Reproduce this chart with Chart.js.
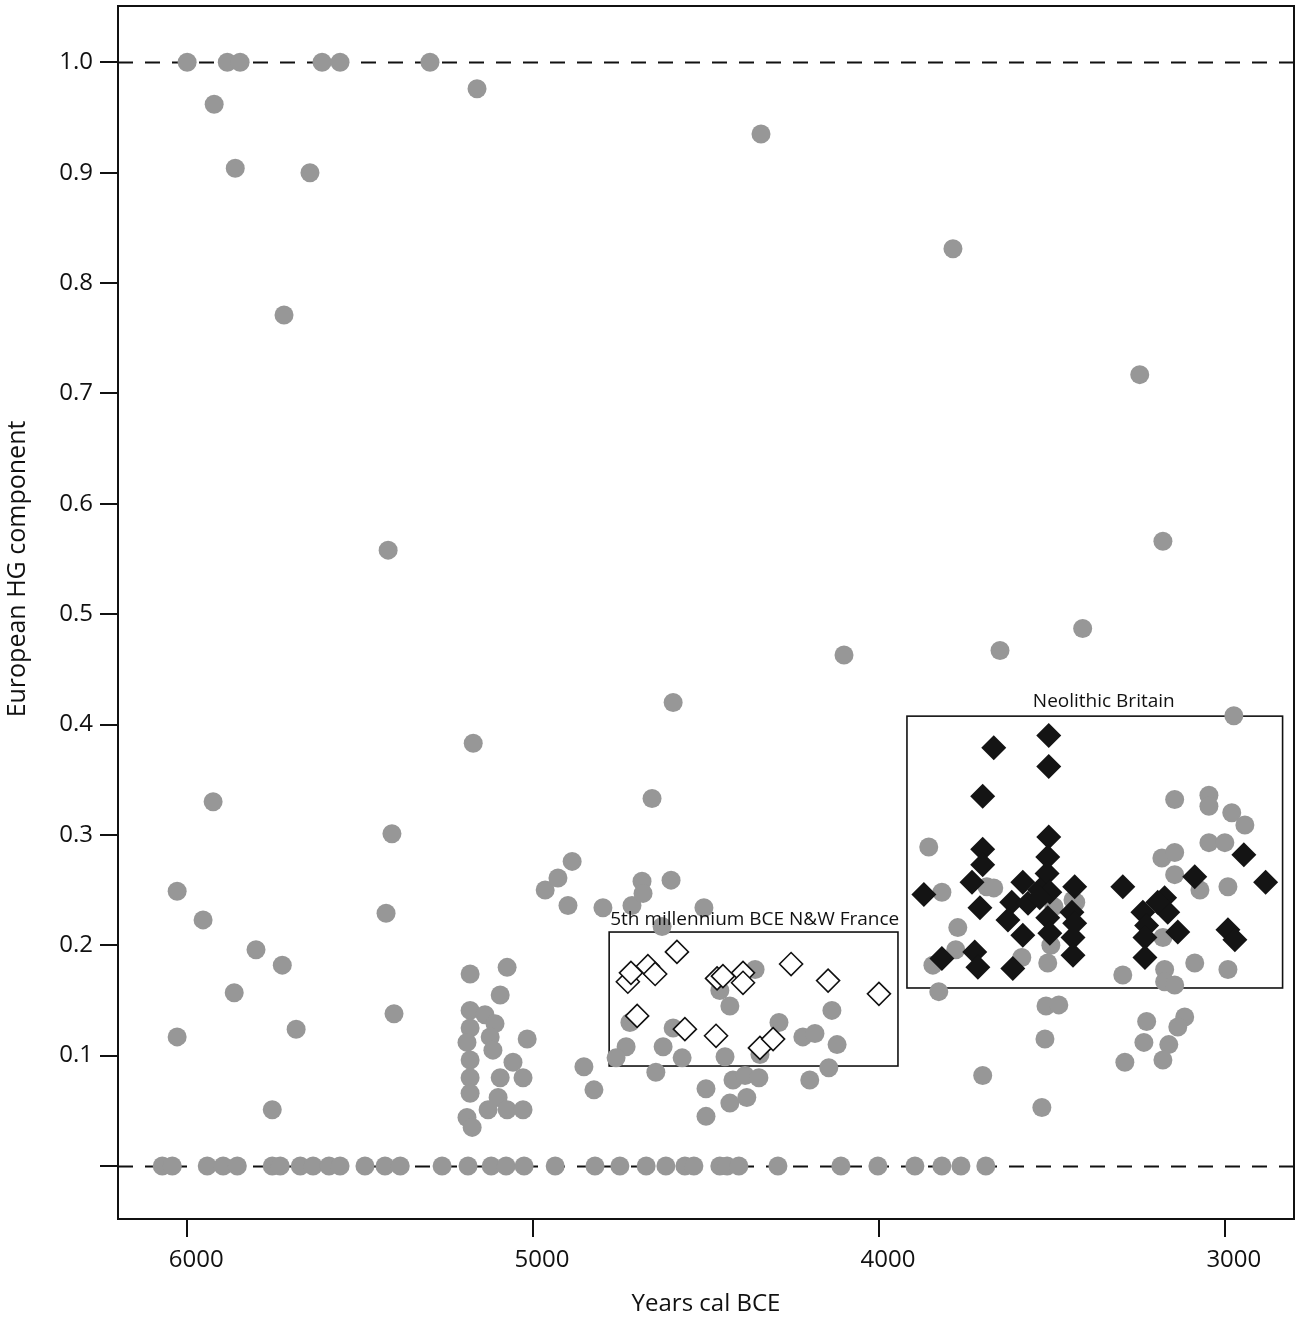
<!DOCTYPE html>
<html>
<head>
<meta charset="utf-8">
<script src="https://cdn.jsdelivr.net/npm/chart.js@4.4.1/dist/chart.umd.min.js"></script>
<style>
  html, body { margin: 0; padding: 0; background: #ffffff; }
  #wrap { width: 1299px; height: 1321px; position: relative; }
</style>
</head>
<body>
<div id="wrap"><canvas id="c"></canvas></div>
<script>
// ---------- DATA ----------
const xTickValues = [6000, 5000, 4000, 3000];
const yTickValues = [0, 0.1, 0.2, 0.3, 0.4, 0.5, 0.6, 0.7, 0.8, 0.9, 1.0];
const yTickLabels = ['', '0.1', '0.2', '0.3', '0.4', '0.5', '0.6', '0.7', '0.8', '0.9', '1.0'];
const referenceLevels = [0, 1.0];

// Grey circles: all samples (years cal BCE, European HG component)
const greyYears = [
  6000, 5922, 5884, 5847, 5861, 5610, 5558, 5645, 5720, 5298, 5162, 4341, 3786, 3246, 3179,
  5419, 3411, 4101, 3650, 4595, 5173, 2974, 5925, 5408, 4656, 6029, 5954, 5864, 5801, 5725,
  5685, 5754, 6029, 5425, 5402,
  5182, 5075, 5095, 5182, 5139, 5110, 5182, 5191, 5124, 5017, 5182, 5116, 5058, 5095, 5029,
  5182, 5182, 5101, 5130, 5075, 5029, 5191, 5176,
  4965, 4928, 4887, 4899, 4853, 4824, 4798, 4714, 4685, 4682, 4601, 4506, 4627, 4358, 4460,
  4431, 4136, 4289, 4720, 4595, 4220, 4185, 4121, 4731, 4760, 4624, 4569, 4445, 4344, 4645,
  4422, 4387, 4347, 4145, 4200, 4500, 4431, 4382, 4500,
  3856, 3818, 3772, 3778, 3844, 3827, 3688, 3668, 3587, 3503, 3512, 3494, 3431, 3517, 3480,
  3520, 3700, 3529, 3439,
  3145, 3046, 3046, 2980, 2942, 3046, 3000, 3182, 3145, 3145, 3072, 2991, 3179, 3295, 3174,
  3174, 3145, 3087, 2991, 3116, 3226, 3136, 3234, 3162, 3289, 3179,
  6072, 6043, 5942, 5896, 5855, 5754, 5731, 5673, 5636, 5590, 5558, 5486, 5428, 5384, 5263,
  5188, 5121, 5078, 5026, 4936, 4821, 4749, 4673, 4616, 4561, 4535, 4460, 4439, 4405, 4292,
  4110, 4003, 3896, 3818, 3763, 3691
];
const greyValues = [
  1.000, 0.962, 1.000, 1.000, 0.904, 1.000, 1.000, 0.900, 0.771, 1.000, 0.976, 0.935, 0.831, 0.717, 0.566,
  0.558, 0.487, 0.463, 0.467, 0.420, 0.383, 0.408, 0.330, 0.301, 0.333, 0.249, 0.223, 0.157, 0.196, 0.182,
  0.124, 0.051, 0.117, 0.229, 0.138,
  0.174, 0.180, 0.155, 0.141, 0.137, 0.129, 0.125, 0.112, 0.117, 0.115, 0.096, 0.105, 0.094, 0.080, 0.080,
  0.080, 0.066, 0.062, 0.051, 0.051, 0.051, 0.044, 0.035,
  0.250, 0.261, 0.276, 0.236, 0.090, 0.069, 0.234, 0.236, 0.258, 0.247, 0.259, 0.234, 0.217, 0.178, 0.159,
  0.145, 0.141, 0.130, 0.130, 0.125, 0.117, 0.120, 0.110, 0.108, 0.098, 0.108, 0.098, 0.099, 0.101, 0.085,
  0.078, 0.082, 0.080, 0.089, 0.078, 0.070, 0.057, 0.062, 0.045,
  0.289, 0.248, 0.216, 0.196, 0.182, 0.158, 0.253, 0.252, 0.189, 0.200, 0.184, 0.235, 0.239, 0.145, 0.146,
  0.115, 0.082, 0.053, 0.241,
  0.332, 0.336, 0.326, 0.320, 0.309, 0.293, 0.293, 0.279, 0.284, 0.264, 0.250, 0.253, 0.207, 0.173, 0.178,
  0.167, 0.164, 0.184, 0.178, 0.135, 0.131, 0.126, 0.112, 0.110, 0.094, 0.096,
  0, 0, 0, 0, 0, 0, 0, 0, 0, 0, 0, 0, 0, 0, 0,
  0, 0, 0, 0, 0, 0, 0, 0, 0, 0, 0, 0, 0, 0, 0,
  0, 0, 0, 0, 0, 0
];

// Open diamonds: 5th millennium BCE N&W France
const franceYears = [4726, 4717, 4699, 4668, 4647, 4584, 4561, 4471, 4468, 4451, 4393, 4393, 4344, 4306, 4254, 4147, 4000];
const franceValues = [0.167, 0.175, 0.136, 0.181, 0.174, 0.194, 0.124, 0.118, 0.170, 0.172, 0.175, 0.166, 0.107, 0.115, 0.183, 0.168, 0.156];

// Black diamonds: Neolithic Britain
const britainYears = [
  3509, 3668, 3509, 3700, 3509, 3700, 3512, 3700, 3514, 2945, 3584, 3731, 3535, 3506, 3087,
  2882, 3870, 3434, 3295, 3616, 3569, 3535, 3708, 3174, 3237, 3165, 3627, 3512, 3442, 3434,
  3226, 3506, 3439, 3231, 3136, 3584, 2991, 2971, 3439, 3818, 3723, 3714, 3613, 3231, 3194
];
const britainValues = [
  0.390, 0.379, 0.362, 0.335, 0.298, 0.287, 0.280, 0.273, 0.265, 0.282, 0.257, 0.257, 0.250, 0.248, 0.262,
  0.257, 0.246, 0.253, 0.253, 0.239, 0.238, 0.243, 0.234, 0.243, 0.230, 0.230, 0.223, 0.225, 0.230, 0.220,
  0.218, 0.211, 0.207, 0.207, 0.212, 0.209, 0.214, 0.205, 0.191, 0.188, 0.194, 0.180, 0.179, 0.189, 0.239
];

// Annotation boxes (data units: years cal BCE / HG component)
const boxLabels = ['5th millennium BCE N&W France', 'Neolithic Britain'];
const boxYearFrom = [4780, 3919];
const boxYearTo = [3945, 2833];
const boxValueLow = [0.0906, 0.1613];
const boxValueHigh = [0.212, 0.4076];

// ---------- CHART ----------
const FONT = '"Open Sans", "Noto Sans", Arial, sans-serif';

function pairs(xs, ys) { return xs.map((x, i) => ({ x: x, y: ys[i] })); }

const decorPlugin = {
  id: 'decor',
  beforeDatasetsDraw(chart) {
    const { ctx, chartArea, scales } = chart;
    const xs = scales.x, ys = scales.y;
    ctx.save();
    ctx.strokeStyle = '#111';
    ctx.lineWidth = 2;
    ctx.setLineDash([15, 12]);
    referenceLevels.forEach(v => {
      const py = Math.round(ys.getPixelForValue(v)) + 0.5;
      ctx.beginPath();
      ctx.moveTo(chartArea.left, py);
      ctx.lineTo(chartArea.right, py);
      ctx.stroke();
    });
    ctx.setLineDash([]);
    ctx.strokeStyle = '#111';
    ctx.lineWidth = 1.6;
    for (let i = 0; i < boxLabels.length; i++) {
      const x0 = xs.getPixelForValue(boxYearFrom[i]);
      const x1 = xs.getPixelForValue(boxYearTo[i]);
      const y0 = ys.getPixelForValue(boxValueHigh[i]);
      const y1 = ys.getPixelForValue(boxValueLow[i]);
      ctx.strokeRect(x0, y0, x1 - x0, y1 - y0);
    }
    ctx.restore();
  },
  afterDraw(chart) {
    const { ctx, chartArea, scales } = chart;
    const xs = scales.x, ys = scales.y;
    ctx.save();
    ctx.strokeStyle = '#111';
    ctx.lineWidth = 2;
    ctx.strokeRect(chartArea.left, chartArea.top, chartArea.right - chartArea.left, chartArea.bottom - chartArea.top);
    ctx.fillStyle = '#111';
    ctx.font = '19px ' + FONT;
    ctx.textBaseline = 'alphabetic';
    {
      const x0 = xs.getPixelForValue(boxYearFrom[0]);
      const y0 = ys.getPixelForValue(boxValueHigh[0]);
      ctx.textAlign = 'left';
      ctx.fillText(boxLabels[0], x0 + 1, y0 - 7);
    }
    {
      const x0 = xs.getPixelForValue(boxYearFrom[1]);
      const x1 = xs.getPixelForValue(boxYearTo[1]);
      const y0 = ys.getPixelForValue(boxValueHigh[1]);
      ctx.textAlign = 'center';
      ctx.fillText(boxLabels[1], (x0 + x1) / 2 + 9, y0 - 9);
    }
    ctx.font = '25px ' + FONT;
    ctx.textAlign = 'center';
    ctx.textBaseline = 'middle';
    ctx.translate(18, 569);
    ctx.rotate(-Math.PI / 2);
    ctx.fillText('European HG component', 0, 0);
    ctx.restore();
  }
};

new Chart(document.getElementById('c'), {
  type: 'scatter',
  data: {
    datasets: [
      {
        label: 'Neolithic Britain',
        data: pairs(britainYears, britainValues),
        pointStyle: 'rectRot',
        pointRadius: 12.5,
        backgroundColor: '#141414',
        borderColor: '#141414',
        borderWidth: 0,
        order: 1
      },
      {
        label: '5th millennium BCE N&W France',
        data: pairs(franceYears, franceValues),
        pointStyle: 'rectRot',
        pointRadius: 11.5,
        backgroundColor: '#ffffff',
        borderColor: '#111111',
        borderWidth: 1.6,
        order: 2
      },
      {
        label: 'All samples',
        data: pairs(greyYears, greyValues),
        pointStyle: 'circle',
        pointRadius: 9.5,
        backgroundColor: '#979797',
        borderColor: '#979797',
        borderWidth: 0,
        order: 3
      }
    ]
  },
  options: {
    responsive: true,
    maintainAspectRatio: false,
    animation: false,
    layout: { autoPadding: false, padding: { left: 0, right: 5, top: 6, bottom: 0 } },
    plugins: { legend: { display: false }, tooltip: { enabled: false } },
    scales: {
      x: {
        type: 'linear',
        reverse: true,
        min: 2800,
        max: 6200,
        afterBuildTicks: s => { s.ticks = xTickValues.map(v => ({ value: v })); },
        afterFit: s => { s.height = 102; s.paddingLeft = 0; s.paddingRight = 0; },
        border: { display: false },
        grid: { display: true, drawOnChartArea: false, drawTicks: true, tickLength: 18, color: '#111', lineWidth: 2 },
        ticks: {
          color: '#111',
          font: { family: FONT, size: 24 },
          padding: 9,
          labelOffset: 9,
          maxRotation: 0,
          callback: v => String(v)
        },
        title: {
          display: true,
          text: 'Years cal BCE',
          color: '#111',
          font: { family: FONT, size: 24 },
          padding: { top: 0, bottom: 2 }
        }
      },
      y: {
        type: 'linear',
        min: -0.048,
        max: 1.051,
        afterBuildTicks: s => { s.ticks = yTickValues.map(v => ({ value: v })); },
        afterFit: s => { s.width = 118; s.paddingTop = 0; s.paddingBottom = 0; },
        border: { display: false },
        grid: { display: true, drawOnChartArea: false, drawTicks: true, tickLength: 18, color: '#111', lineWidth: 2 },
        ticks: {
          color: '#111',
          font: { family: FONT, size: 24 },
          padding: 7,
          callback: (v, i) => yTickLabels[i]
        },
        title: { display: false }
      }
    }
  },
  plugins: [decorPlugin]
});
</script>
</body>
</html>
